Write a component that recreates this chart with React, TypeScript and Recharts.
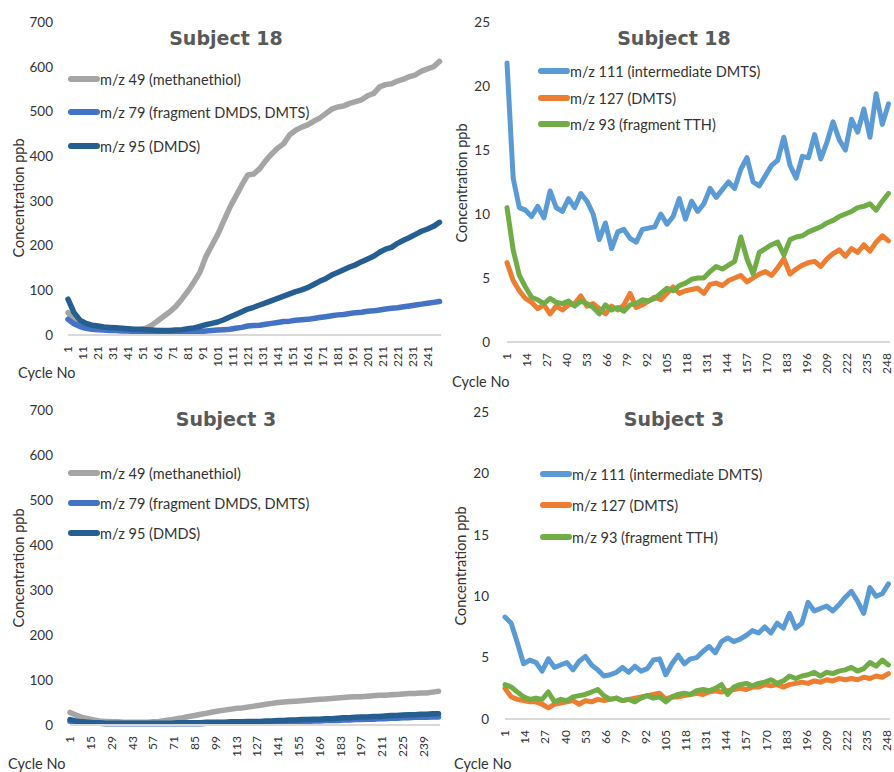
import React from "react";
import { LineChart, Line, XAxis, YAxis } from "recharts";

// sampled cycle numbers (every 4th cycle)
const CYCLES = [
  1, 5, 9, 13, 17, 21, 25, 29, 33,
  37, 41, 45, 49, 53, 57, 61, 65, 69,
  73, 77, 81, 85, 89, 93, 97, 101, 105,
  109, 113, 117, 121, 125, 129, 133, 137, 141,
  145, 149, 153, 157, 161, 165, 169, 173, 177,
  181, 185, 189, 193, 197, 201, 205, 209, 213,
  217, 221, 225, 229, 233, 237, 241, 245, 249,
];

const TICKS_TL = [1, 11, 21, 31, 41, 51, 61, 71, 81, 91, 101, 111, 121, 131, 141, 151, 161, 171, 181, 191, 201, 211, 221, 231, 241];
const TICKS_BL = [1, 15, 29, 43, 57, 71, 85, 99, 113, 127, 141, 155, 169, 183, 197, 211, 225, 239];
const TICKS_R = [1, 14, 27, 40, 53, 66, 79, 92, 105, 118, 131, 144, 157, 170, 183, 196, 209, 222, 235, 248];
const Y_PPB = [0, 100, 200, 300, 400, 500, 600, 700];
const Y_SMALL = [0, 5, 10, 15, 20, 25];

// Subject 18
const S18_MZ49 = [
  50, 32, 22, 18, 16, 15, 14, 14, 13,
  13, 13, 12, 12, 15, 22, 32, 42, 52,
  64, 80, 98, 118, 140, 175, 200, 225, 255,
  285, 310, 335, 358, 360, 372, 390, 405, 418,
  428, 448, 458, 465, 470, 478, 485, 495, 505,
  510, 512, 518, 522, 526, 535, 540, 555, 560,
  562, 568, 572, 578, 582, 590, 595, 600, 612,
];
const S18_MZ79 = [
  35, 25, 19, 15, 13, 12, 11, 10, 10,
  9, 9, 8, 8, 7, 7, 6, 6, 6,
  6, 6, 7, 7, 8, 9, 10, 11, 12,
  13, 15, 17, 20, 21, 22, 24, 26, 28,
  30, 31, 33, 34, 35, 37, 39, 41, 43,
  45, 46, 48, 50, 51, 53, 54, 56, 58,
  60, 61, 63, 65, 67, 69, 71, 73, 75,
];
const S18_MZ95 = [
  80, 50, 33, 26, 22, 20, 18, 17, 16,
  15, 14, 13, 13, 12, 11, 10, 10, 10,
  11, 12, 14, 16, 19, 23, 26, 29, 34,
  40, 46, 52, 58, 62, 67, 72, 77, 82,
  87, 92, 97, 101, 106, 113, 120, 126, 134,
  140, 146, 152, 157, 164, 170, 176, 185, 192,
  196, 205, 212, 218, 225, 232, 237, 243, 252,
];
const S18_MZ111 = [
  21.8, 12.8, 10.5, 10.3, 9.8, 10.6, 9.7, 11.8, 10.5,
  10.2, 11.2, 10.5, 11.6, 11.0, 10.0, 8.0, 9.3, 7.3,
  8.6, 8.8, 8.1, 7.8, 8.8, 8.9, 9.0, 10.0, 9.2,
  9.8, 11.2, 9.6, 11.0, 10.2, 10.8, 12.0, 11.3, 11.9,
  12.5, 12.0, 13.5, 14.4, 12.5, 12.2, 13.0, 13.8, 14.2,
  16.0, 13.8, 12.8, 14.5, 14.4, 16.2, 14.3, 15.6, 17.2,
  15.8, 15.0, 17.4, 16.4, 18.2, 16.0, 19.4, 17.0, 18.6,
];
const S18_MZ127 = [
  6.2, 4.8, 4.0, 3.4, 3.1, 2.6, 2.9, 2.2, 2.8,
  2.5, 2.9, 3.0, 3.6, 2.8, 3.0, 2.6, 2.2, 2.8,
  2.5, 2.9, 3.8, 2.7, 2.9, 3.2, 3.5, 3.3, 3.8,
  4.3, 3.8, 4.0, 4.1, 4.2, 3.8, 4.5, 4.6, 4.4,
  4.8, 5.0, 5.2, 4.7, 5.0, 5.3, 5.5, 5.2, 5.8,
  6.5, 5.3, 5.7, 6.0, 6.2, 6.3, 5.9, 6.5, 6.9,
  7.2, 6.7, 7.3, 7.0, 7.6, 7.1, 7.8, 8.3, 7.9,
];
const S18_MZ93 = [
  10.5, 7.2, 5.2, 4.3, 3.5, 3.3, 3.0, 3.4, 3.1,
  3.0, 3.2, 2.8, 3.2, 3.0, 2.7, 2.2, 2.9, 2.5,
  2.7, 2.4, 2.9, 3.0, 3.3, 3.2, 3.4, 3.8, 4.2,
  4.0, 4.4, 4.6, 4.9, 5.0, 5.0, 5.5, 5.9, 5.7,
  6.0, 6.3, 8.2, 6.5, 5.3, 7.0, 7.3, 7.6, 7.8,
  6.8, 8.0, 8.2, 8.3, 8.6, 8.8, 9.0, 9.3, 9.5,
  9.8, 10.0, 10.2, 10.5, 10.6, 10.8, 10.3, 11.0, 11.6,
];

// Subject 3
const S3_MZ49 = [
  28, 22, 17, 14, 11, 9, 8, 7, 7,
  6, 6, 6, 6, 6, 7, 8, 10, 12,
  14, 16, 19, 21, 24, 26, 29, 31, 33,
  35, 37, 38, 40, 42, 44, 46, 48, 50,
  51, 52, 53, 54, 55, 56, 57, 58, 59,
  60, 61, 62, 63, 63, 64, 65, 66, 66,
  67, 68, 69, 70, 70, 71, 71, 73, 75,
];
const S3_MZ79 = [
  8, 6, 5, 4, 4, 4, 3, 3, 3,
  3, 3, 3, 3, 3, 3, 3, 3, 3,
  3, 3, 3, 3, 3, 4, 4, 4, 4,
  4, 4, 5, 5, 5, 5, 6, 6, 6,
  7, 7, 8, 8, 8, 9, 9, 10, 10,
  10, 11, 11, 12, 12, 13, 13, 14, 14,
  15, 15, 16, 16, 17, 17, 17, 18, 18,
];
const S3_MZ95 = [
  12, 9, 7, 6, 5, 5, 4, 4, 4,
  4, 4, 4, 4, 4, 4, 4, 4, 4,
  5, 5, 5, 5, 5, 6, 6, 6, 6,
  7, 7, 7, 8, 8, 8, 9, 9, 10,
  10, 11, 11, 12, 12, 13, 13, 14, 14,
  15, 16, 16, 17, 18, 18, 19, 19, 20,
  21, 21, 22, 23, 23, 24, 24, 25, 25,
];
const S3_MZ111 = [
  8.3, 7.8, 6.2, 4.5, 4.8, 4.6, 3.9, 4.9, 4.2,
  4.4, 4.6, 4.0, 4.7, 5.1, 4.4, 4.0, 3.5, 3.6,
  3.8, 4.2, 3.8, 4.3, 3.9, 4.1, 4.8, 4.9, 3.6,
  4.5, 5.2, 4.5, 4.9, 5.0, 5.5, 5.9, 5.4, 6.3,
  6.6, 6.3, 6.5, 6.8, 7.2, 7.0, 7.5, 7.0, 7.8,
  7.4, 8.6, 7.4, 7.8, 9.5, 8.8, 9.0, 9.2, 8.8,
  9.3, 9.9, 10.4, 9.6, 8.6, 10.7, 10.0, 10.2, 11.0,
];
const S3_MZ127 = [
  2.5, 1.8, 1.6, 1.5, 1.4, 1.4, 1.2, 0.9, 1.2,
  1.3, 1.4, 1.5, 1.2, 1.5, 1.4, 1.6, 1.5, 1.6,
  1.7, 1.5, 1.6, 1.7, 1.8, 1.9, 2.0, 2.1, 1.6,
  1.8, 1.8, 1.9, 2.0, 2.1, 2.0, 2.2, 2.3, 2.2,
  2.3, 2.4, 2.5, 2.4, 2.6, 2.6, 2.8, 2.7, 2.8,
  2.6, 2.8, 2.9, 3.0, 2.9, 3.1, 3.0, 3.2, 3.1,
  3.3, 3.2, 3.3, 3.2, 3.4, 3.3, 3.5, 3.4, 3.7,
];
const S3_MZ93 = [
  2.8, 2.6, 2.2, 1.8, 1.6, 1.7, 1.6, 2.2, 1.4,
  1.6, 1.5, 1.8, 1.9, 2.0, 2.2, 2.4, 1.9, 1.6,
  1.7, 1.5, 1.6, 1.4, 1.7, 1.9, 1.7, 1.8, 1.4,
  1.8, 2.0, 2.1, 2.0, 2.3, 2.4, 2.3, 2.5, 2.8,
  2.0, 2.6, 2.8, 2.9, 2.7, 2.9, 3.0, 3.2, 2.9,
  3.1, 3.5, 3.3, 3.5, 3.6, 3.8, 3.5, 3.8, 3.7,
  3.9, 4.0, 4.2, 3.9, 4.1, 4.6, 4.3, 4.8, 4.4,
];

const FONT = "Lato, 'Open Sans', sans-serif";
const TEXT = "#333333";

const LEFT_SERIES = [
  { key: "a", name: "m/z 49 (methanethiol)", color: "#A5A5A5" },
  { key: "b", name: "m/z 79 (fragment DMDS, DMTS)", color: "#4472C4" },
  { key: "c", name: "m/z 95 (DMDS)", color: "#255E91" },
];
const RIGHT_SERIES = [
  { key: "a", name: "m/z 111 (intermediate DMTS)", color: "#5B9BD5" },
  { key: "b", name: "m/z 127 (DMTS)", color: "#ED7D31" },
  { key: "c", name: "m/z 93 (fragment TTH)", color: "#70AD47" },
];

const makeRows = (a: number[], b: number[], c: number[]) =>
  CYCLES.map((cycle, i) => ({ cycle, a: a[i], b: b[i], c: c[i] }));

const XTick = (props: any) => {
  const { x, y, payload } = props;
  return (
    <g transform={`translate(${x},${y + 11}) rotate(-90)`}>
      <text x={0} y={0} dy="0.35em" textAnchor="end" fill={TEXT} fontSize={12} fontFamily={FONT}>
        {payload.value}
      </text>
    </g>
  );
};

interface PanelProps {
  left: number;
  top: number;
  rows: any[];
  series: { key: string; name: string; color: string }[];
  xTicks: number[];
  yTicks: number[];
  yMax: number;
  margin: { top: number; right: number; left: number; bottom: number };
  yWidth: number;
  yTickMargin: number;
  lineWidth: number;
  title: string;
  titleX: number;
  titleY: number;
  legendX: number;
  legendY: number[];
  yTitleX: number;
  yTitleY: number;
  cycleX: number;
  cycleY: number;
}

const Panel = (p: PanelProps) => (
  <>
    <div style={{ position: "absolute", left: p.left, top: p.top }}>
      <LineChart width={447} height={386} data={p.rows} margin={p.margin} style={{ overflow: "visible" }}>
        <XAxis
          dataKey="cycle"
          type="number"
          domain={[1, 250]}
          ticks={p.xTicks}
          interval={0}
          height={40}
          tick={<XTick />}
          tickLine={false}
          tickSize={0}
          tickMargin={0}
          axisLine={{ stroke: "#D9D9D9", strokeWidth: 2 }}
        />
        <YAxis
          domain={[0, p.yMax]}
          ticks={p.yTicks}
          interval={0}
          width={p.yWidth}
          axisLine={false}
          tickLine={false}
          tickSize={0}
          tickMargin={p.yTickMargin}
          tick={{ fill: TEXT, fontSize: 13.5, fontFamily: FONT }}
        />
        {p.series.map((s) => (
          <Line
            key={s.key}
            dataKey={s.key}
            name={s.name}
            stroke={s.color}
            strokeWidth={p.lineWidth}
            strokeLinejoin="round"
            strokeLinecap="round"
            dot={false}
            type="linear"
            isAnimationActive={false}
          />
        ))}
      </LineChart>
    </div>
    <div
      style={{
        position: "absolute",
        left: p.titleX - 100,
        top: p.titleY - 12,
        width: 200,
        textAlign: "center",
        fontFamily: "'DejaVu Sans', sans-serif",
        fontWeight: "bold",
        fontSize: 19,
        lineHeight: "24px",
        color: "#595959",
      }}
    >
      {p.title}
    </div>
    {p.series.map((s, i) => (
      <div
        key={s.key}
        style={{
          position: "absolute",
          left: p.legendX,
          top: p.legendY[i] - 10,
          height: 20,
          display: "flex",
          alignItems: "center",
          whiteSpace: "nowrap",
          fontFamily: FONT,
          fontSize: 14.5,
          color: TEXT,
        }}
      >
        <span style={{ display: "inline-block", width: 32, height: 6, borderRadius: 3, background: s.color }} />
        <span>{s.name}</span>
      </div>
    ))}
    <div
      style={{
        position: "absolute",
        left: p.yTitleX,
        top: p.yTitleY,
        transform: "translate(-50%, -50%) rotate(-90deg)",
        whiteSpace: "nowrap",
        fontFamily: FONT,
        fontSize: 14.5,
        color: TEXT,
      }}
    >
      Concentration ppb
    </div>
    <div
      style={{
        position: "absolute",
        left: p.cycleX,
        top: p.cycleY - 9,
        whiteSpace: "nowrap",
        fontFamily: FONT,
        fontSize: 14.5,
        lineHeight: "18px",
        color: TEXT,
      }}
    >
      Cycle No
    </div>
  </>
);

export default function App() {
  return (
    <div style={{ position: "absolute", left: 0, top: 0, width: 894, height: 772, background: "#fff", overflow: "hidden" }}>
      <Panel
        left={0}
        top={0}
        rows={makeRows(S18_MZ49, S18_MZ79, S18_MZ95)}
        series={LEFT_SERIES}
        xTicks={TICKS_TL}
        yTicks={Y_PPB}
        yMax={700}
        margin={{ top: 22, right: 6, left: 0, bottom: 11 }}
        yWidth={68}
        yTickMargin={15}
        lineWidth={5.5}
        title="Subject 18"
        titleX={226}
        titleY={38}
        legendX={68}
        legendY={[79, 112, 146]}
        yTitleX={18}
        yTitleY={198}
        cycleX={18}
        cycleY={373}
      />
      <Panel
        left={447}
        top={0}
        rows={makeRows(S18_MZ111, S18_MZ127, S18_MZ93)}
        series={RIGHT_SERIES}
        xTicks={TICKS_R}
        yTicks={Y_SMALL}
        yMax={25}
        margin={{ top: 22, right: 4, left: 0, bottom: 4 }}
        yWidth={60}
        yTickMargin={17}
        lineWidth={5}
        title="Subject 18"
        titleX={674}
        titleY={38}
        legendX={538}
        legendY={[71, 98, 124]}
        yTitleX={461}
        yTitleY={183}
        cycleX={452}
        cycleY={382}
      />
      <Panel
        left={0}
        top={386}
        rows={makeRows(S3_MZ49, S3_MZ79, S3_MZ95)}
        series={LEFT_SERIES}
        xTicks={TICKS_BL}
        yTicks={Y_PPB}
        yMax={700}
        margin={{ top: 24, right: 7, left: 0, bottom: 7 }}
        yWidth={70}
        yTickMargin={17}
        lineWidth={5.5}
        title="Subject 3"
        titleX={226}
        titleY={419}
        legendX={68}
        legendY={[473, 503, 533]}
        yTitleX={18}
        yTitleY={568}
        cycleX={8}
        cycleY={764}
      />
      <Panel
        left={447}
        top={386}
        rows={makeRows(S3_MZ111, S3_MZ127, S3_MZ93)}
        series={RIGHT_SERIES}
        xTicks={TICKS_R}
        yTicks={Y_SMALL}
        yMax={25}
        margin={{ top: 26, right: 4, left: 0, bottom: 13 }}
        yWidth={58}
        yTickMargin={16}
        lineWidth={5}
        title="Subject 3"
        titleX={674}
        titleY={419}
        legendX={540}
        legendY={[474, 505, 537]}
        yTitleX={460}
        yTitleY={566}
        cycleX={454}
        cycleY={764}
      />
    </div>
  );
}
